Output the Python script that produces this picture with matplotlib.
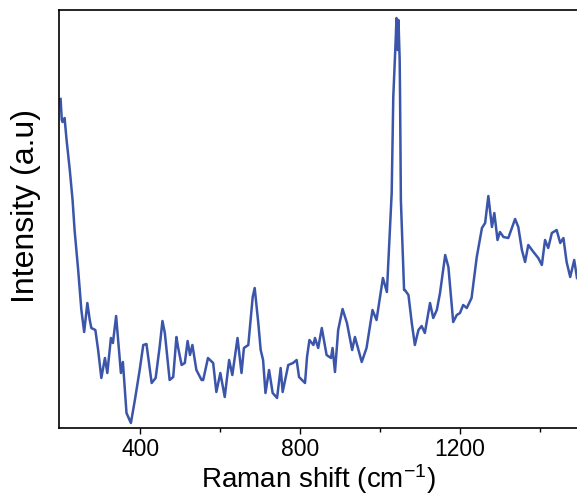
import matplotlib
matplotlib.use("Agg")
import matplotlib.pyplot as plt
from matplotlib.ticker import FixedLocator

plt.rcParams['font.family'] = ['Liberation Sans', 'DejaVu Sans']
plt.rcParams['mathtext.default'] = 'regular'

wavenumber = [200, 203, 205, 210, 215, 223, 230, 235, 244, 252, 259, 267, 273, 277, 287, 294,
              302, 311, 317, 326, 331, 339, 346, 351, 356, 365, 376, 386, 398, 407, 415, 428,
              438, 448, 455, 461, 473, 482, 490, 494, 503, 511, 518, 524, 530, 540, 553, 557,
              569, 582, 590, 600, 611, 622, 630, 643, 653, 659, 670, 681, 686, 695, 701, 707,
              713, 722, 731, 742, 751, 756, 770, 782, 791, 797, 812, 817, 823, 833, 837, 845,
              854, 866, 877, 881, 887, 895, 906, 917, 930, 937, 954, 966, 981, 991, 1007, 1017,
              1029, 1033, 1039, 1041, 1044, 1046, 1049, 1050, 1052, 1060, 1062, 1071, 1079, 1087,
              1096, 1104, 1112, 1125, 1133, 1142, 1150, 1163, 1171, 1183, 1192, 1200, 1208, 1217,
              1229, 1242, 1255, 1263, 1271, 1280, 1286, 1294, 1300, 1309, 1321, 1338, 1346, 1355,
              1363, 1371, 1384, 1396, 1405, 1413, 1421, 1430, 1442, 1451, 1459, 1467, 1476, 1486,
              1493]
intensity = [329, 308, 306, 310, 288, 258, 228, 198, 158, 118, 96, 125, 108, 100, 98, 78,
             50, 70, 55, 90, 85, 112, 78, 55, 66, 15, 5, 28, 58, 83, 84, 45,
             50, 81, 107, 95, 48, 51, 91, 81, 63, 65, 87, 73, 83, 58, 48, 48,
             70, 65, 36, 55, 31, 68, 53, 90, 55, 80, 83, 131, 140, 105, 78, 68,
             35, 58, 35, 30, 60, 36, 63, 65, 68, 51, 45, 71, 88, 83, 90, 80,
             100, 73, 70, 80, 56, 98, 119, 105, 78, 91, 66, 80, 118, 108, 150, 136,
             235, 331, 388, 410, 378, 408, 368, 331, 228, 138, 138, 133, 106, 83,
             98, 102, 95, 125, 110, 118, 135, 173, 161, 106, 113, 115, 123, 120,
             130, 171, 200, 205, 232, 201, 215, 188, 196, 191, 190, 209, 201, 178,
             166, 183, 176, 170, 163, 188, 180, 195, 198, 185, 190, 166, 151, 168,
             150]

major_ticks = [400, 800, 1200]
minor_ticks = [600, 1000, 1400]

fig = plt.figure(figsize=(5.77, 4.98), dpi=100)
ax = fig.add_axes([59 / 577, 1 - 428 / 498, (577 - 59) / 577, (428 - 10) / 498])
ax.plot(wavenumber, intensity, color='#3a55aa', lw=1.8, solid_joinstyle='round')
ax.set_xlim(196, 1493)
ax.set_ylim(0, 418)
ax.xaxis.set_major_locator(FixedLocator(major_ticks))
ax.xaxis.set_minor_locator(FixedLocator(minor_ticks))
ax.set_yticks([])
ax.spines['right'].set_visible(False)
for s in ['left', 'bottom', 'top']:
    ax.spines[s].set_linewidth(1.2)
ax.tick_params(axis='x', which='major', direction='out', length=4, width=1.0,
               labelsize=16.5, pad=3)
ax.tick_params(axis='x', which='minor', direction='out', length=3, width=1.0)
ax.set_xlabel('Raman shift (cm$^{-1}$)', fontsize=20, labelpad=1)
ax.set_ylabel('Intensity (a.u)', fontsize=23)
ax.yaxis.set_label_coords(-0.035, 0.531)
fig.savefig('out.png', dpi=100)
